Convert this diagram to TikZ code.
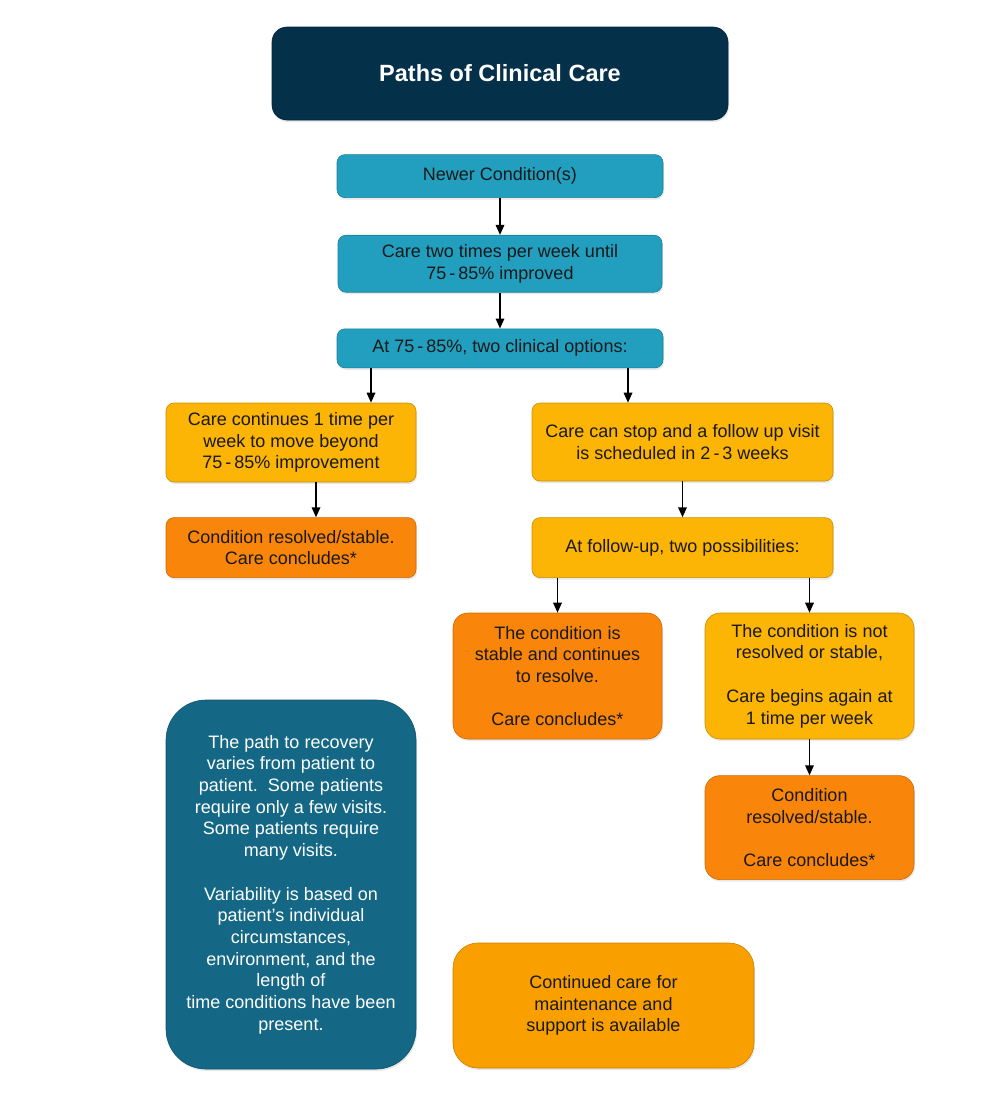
\documentclass[tikz,border=0pt]{standalone}
\usepackage{fontspec}
\setmainfont{Liberation Sans}
\usetikzlibrary{positioning,arrows.meta,shadows}

\definecolor{pathnavy}{RGB}{4,48,74}
\definecolor{pathblue}{RGB}{34,159,191}
\definecolor{pathgold}{RGB}{252,180,5}
\definecolor{pathorange}{RGB}{249,134,10}
\definecolor{pathdeep}{RGB}{20,104,133}
\definecolor{pathamber}{RGB}{249,160,0}

\begin{document}
\begin{tikzpicture}[
	x=1pt,y=-1pt
	,box/.style={draw=#1!80!black, fill=#1, rounded corners=8pt, align=center, inner sep=0pt, line width=.6pt, font=\fontsize{18}{21.7}\selectfont, text=black!90, drop shadow={opacity=.18, shadow xshift=1pt, shadow yshift=-2pt}}
	,tall/.style={rounded corners=15pt, minimum width=209pt}
	,arr/.style={-{Triangle[length=10pt,width=8.5pt]}, line width=1.7pt}
]
	\useasboundingbox (0,0) rectangle (1000,1101);

	\node[box=pathnavy, rounded corners=15pt, minimum width=456pt, minimum height=93pt, text=white, font=\bfseries\fontsize{23.5}{28}\selectfont] (T) at (500,73.5) {Paths of Clinical Care};
	\node[box=pathblue, minimum width=326pt, minimum height=43pt, below=34pt of T] (N) {Newer Condition(s)};
	\node[box=pathblue, minimum width=324pt, minimum height=57pt, below=37pt of N] (W) {Care two times per week until\\75\,-\,85\% improved};
	\node[box=pathblue, minimum width=326pt, minimum height=39pt, below=36pt of W] (O) {At 75\,-\,85\%, two clinical options:};

	\node[box=pathgold, minimum width=250pt, minimum height=79pt] (C) at (291,442.5) {Care continues 1 time per\\week to move beyond\\75\,-\,85\% improvement};
	\node[box=pathorange, minimum width=250pt, minimum height=60pt, below=35pt of C] (R) {Condition resolved/stable.\\Care concludes*};

	\node[box=pathgold, minimum width=301pt, minimum height=78pt] (S) at (682.5,442) {Care can stop and a follow up visit\\is scheduled in 2\,-\,3 weeks};
	\node[box=pathgold, minimum width=301pt, minimum height=60pt, below=36pt of S] (F) {At follow-up, two possibilities:};

	\node[box=pathorange, tall, minimum height=126pt] (P) at (557.5,676) {The condition is\\stable and continues\\to resolve.\\[21.7pt]Care concludes*};
	\node[box=pathgold, tall, minimum height=126pt] (Q) at (809.5,676) {The condition is not\\resolved or stable,\\[21.7pt]Care begins again at\\1 time per week};
	\node[box=pathorange, tall, minimum height=104pt, below=36pt of Q] (E) {Condition\\resolved/stable.\\[21.7pt]Care concludes*};

	\node[box=pathdeep, rounded corners=40pt, minimum width=250pt, minimum height=369pt, text=white] (V) at (291,884.5) {The path to recovery\\varies from patient to\\patient.\ \ Some patients\\require only a few visits.\\Some patients require\\many visits.\\[21.7pt]Variability is based on\\patient's individual\\circumstances,\\environment, and the\\length of\\time conditions have been\\present.};
	\node[box=pathamber, rounded corners=25pt, minimum width=301pt, minimum height=125pt] (M) at (603.5,1005.5) {Continued care for\\maintenance and\\support is available};

	\draw[arr] (N) -- (W);
	\draw[arr] (W) -- (O);
	\draw[arr] ([xshift=-129pt]O.south) -- ([xshift=-129pt]O.south |- C.north);
	\draw[arr] ([xshift=128pt]O.south) -- ([xshift=128pt]O.south |- S.north);
	\draw[arr] ([xshift=25pt]C.south) -- ([xshift=25pt]R.north);
	\draw[arr] (S) -- (F);
	\draw[arr] (F.south -| P.north) -- (P);
	\draw[arr] (F.south -| Q.north) -- (Q);
	\draw[arr] (Q) -- (E);
\end{tikzpicture}
\end{document}
